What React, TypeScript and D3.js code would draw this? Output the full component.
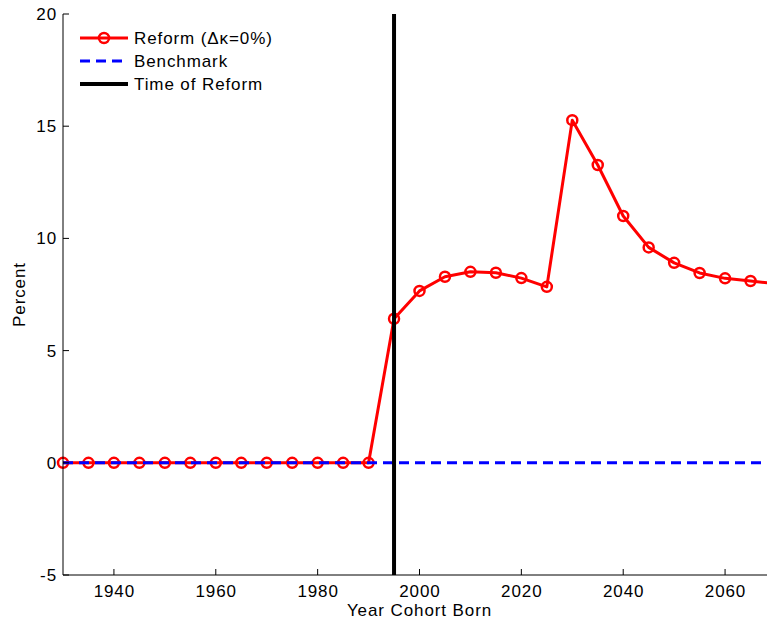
import React from "react";
import * as d3 from "d3";

const years = [1930,1935,1940,1945,1950,1955,1960,1965,1970,1975,1980,1985,1990,1995,2000,2005,2010,2015,2020,2025,2030,2035,2040,2045,2050,2055,2060,2065,2070];
const reform = [0,0,0,0,0,0,0,0,0,0,0,0,0,6.42,7.66,8.29,8.51,8.47,8.23,7.84,15.27,13.27,11.0,9.6,8.91,8.46,8.22,8.1,7.98];
const benchmarkYears = [1930, 2070];
const benchmark = [0, 0];
const reformYear = 1995;
const xTicks = [1940,1960,1980,2000,2020,2040,2060];
const yTicks = [-5,0,5,10,15,20];
const legendLabels = ["Reform (\u0394\u03ba=0%)", "Benchmark", "Time of Reform"];

export default function App() {
  const W = 767, H = 625;
  const left = 63, right = 776, top = 14, bottom = 575;
  const x = d3.scaleLinear().domain([1930, 2070]).range([left, right]);
  const y = d3.scaleLinear().domain([-5, 20]).range([bottom, top]);
  const line = d3.line<number>().x((_, i) => x(years[i])).y(d => y(d));
  const bline = d3.line<number>().x((_, i) => x(benchmarkYears[i])).y(d => y(d));
  const font = "'Liberation Sans', Arial, sans-serif";
  const ls = 0.9;
  return (
    <svg width={W} height={H} style={{ position: "absolute", left: 0, top: 0, background: "#fff" }} fontFamily={font}>
      <rect x={0} y={0} width={W} height={H} fill="#fff" />
      <path d={line(reform) || ""} fill="none" stroke="#ff0000" strokeWidth={3} strokeLinejoin="round" />
      {reform.map((v, i) => (
        <circle key={i} cx={x(years[i])} cy={y(v)} r={5} fill="none" stroke="#ff0000" strokeWidth={2.5} />
      ))}
      <path d={bline(benchmark) || ""} fill="none" stroke="#0000ff" strokeWidth={3} strokeDasharray="10,6" />
      <line x1={x(reformYear)} x2={x(reformYear)} y1={top} y2={bottom} stroke="#000" strokeWidth={4} />
      {/* axes */}
      <line x1={left} x2={right} y1={bottom} y2={bottom} stroke="#000" strokeWidth={1} />
      <line x1={left} x2={left} y1={top} y2={bottom} stroke="#000" strokeWidth={1} />
      {xTicks.map(t => (
        <g key={t}>
          <line x1={x(t)} x2={x(t)} y1={bottom} y2={bottom - 6} stroke="#000" />
          <text x={x(t) + ls / 2} y={bottom + 22} textAnchor="middle" fontSize={17} letterSpacing={ls}>{t}</text>
        </g>
      ))}
      {yTicks.map(t => (
        <g key={t}>
          <line x1={left} x2={left + 6} y1={y(t)} y2={y(t)} stroke="#000" />
          <text x={left - 6} y={y(t) + 6} textAnchor="end" fontSize={17} letterSpacing={ls}>{t}</text>
        </g>
      ))}
      <text x={(left + right) / 2} y={bottom + 41} textAnchor="middle" fontSize={17} letterSpacing={ls}>Year Cohort Born</text>
      <text transform={`translate(25,${(top + bottom) / 2}) rotate(-90)`} textAnchor="middle" fontSize={17} letterSpacing={ls}>Percent</text>
      {/* legend */}
      <g>
        <line x1={80} x2={128} y1={38} y2={38} stroke="#ff0000" strokeWidth={3} />
        <circle cx={104} cy={38} r={5} fill="none" stroke="#ff0000" strokeWidth={2.5} />
        <text x={134} y={44} fontSize={17} letterSpacing={ls}>{legendLabels[0]}</text>
        <line x1={80} x2={128} y1={61} y2={61} stroke="#0000ff" strokeWidth={3} strokeDasharray="10,6" />
        <text x={134} y={67} fontSize={17} letterSpacing={ls}>{legendLabels[1]}</text>
        <line x1={80} x2={128} y1={84} y2={84} stroke="#000" strokeWidth={4} />
        <text x={134} y={90} fontSize={17} letterSpacing={ls}>{legendLabels[2]}</text>
      </g>
    </svg>
  );
}
